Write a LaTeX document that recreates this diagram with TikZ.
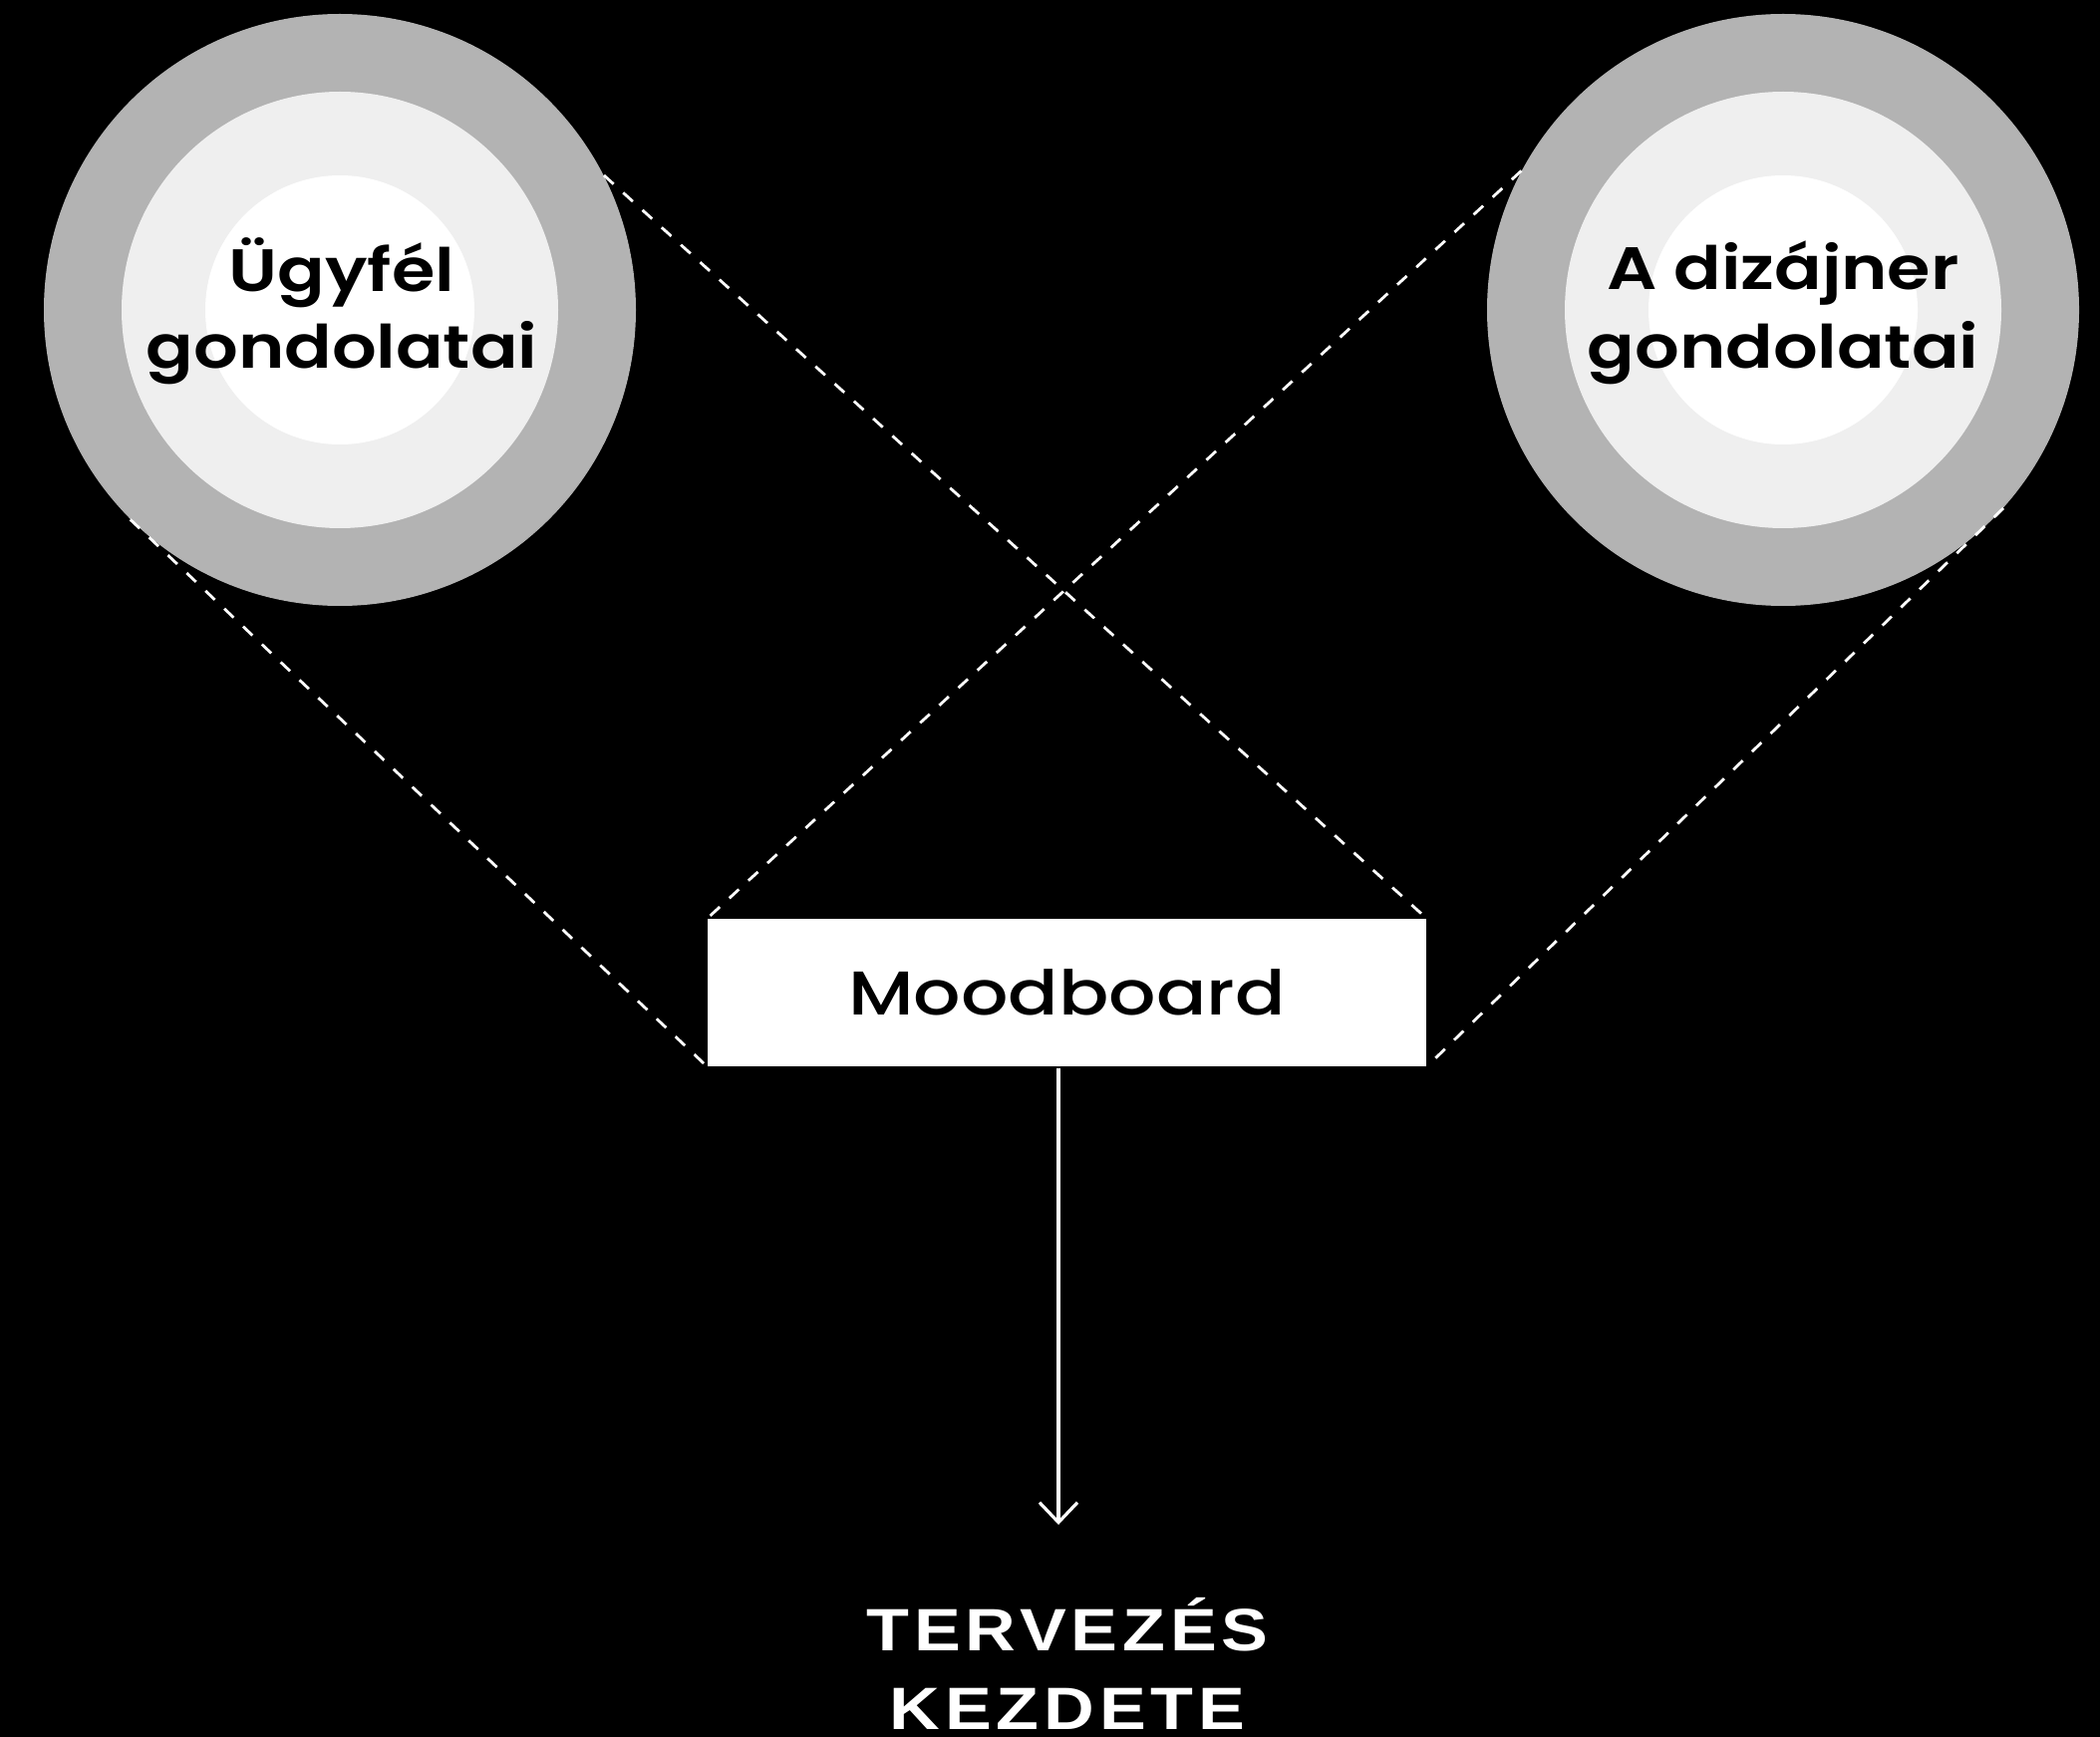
\documentclass[tikz,border=0pt]{standalone}
\usepackage{fontspec}
\usetikzlibrary{arrows.meta}
\newfontfamily\popm[FakeStretch=1.2]{Poppins Medium}
\newfontfamily\pops[FakeStretch=1.17]{Poppins SemiBold}
\newfontfamily\capsfont[FakeStretch=1.17,LetterSpace=8]{Liberation Sans Bold}
\definecolor{ringout}{HTML}{B3B3B3}
\definecolor{ringmid}{HTML}{EFEFEF}
\begin{document}
\begin{tikzpicture}[x=0.5pt,y=-0.5pt,
  outerring/.style={circle,fill=ringout,inner sep=0pt,minimum size=297pt},
  midring/.style={circle,fill=ringmid,inner sep=0pt,minimum size=219pt},
  innerring/.style={circle,fill=white,inner sep=0pt,minimum size=135pt},
  circtext/.style={font=\pops\fontsize{30}{37}\selectfont,text=black,inner sep=0pt,anchor=base},
  boardbox/.style={rectangle,fill=white,inner sep=0pt,minimum width=360.5pt,minimum height=74pt,
    font=\popm\fontsize{31}{38}\selectfont,text=black},
  dashline/.style={draw=white,line width=1.4pt,dash pattern=on 6.5pt off 6.5pt},
  arrowline/.style={draw=white,line width=1.6pt,-{Straight Barb[length=10pt,width=19pt]}},
  endtext/.style={font=\capsfont\fontsize{30}{40}\selectfont,text=white,inner sep=0pt,anchor=base}
]
\fill[black] (0,0) rectangle (2107,1743);
\useasboundingbox (0,0) rectangle (2107,1743);
% left circle
\node[outerring] (lo) at (341,311) {};
\node[midring] (lm) at (341,311) {};
\node[innerring] (li) at (341,311) {};
\node[circtext] (lt1) at (343,293) {Ügyfél};
\node[circtext] (lt2) at (343,370) {gondolatai};
% right circle
\node[outerring] (ro) at (1789,311) {};
\node[midring] (rm) at (1789,311) {};
\node[innerring] (ri) at (1789,311) {};
\node[circtext] (rt1) at (1789,291) {A dizájner};
\node[circtext] (rt2) at (1789,370) {gondolatai};
% moodboard
\node[boardbox] (mb) at (1070.5,996) {Moodboard};
% dashed connectors
\draw[dashline] (lo.27.6) -- (mb.north east);
\draw[dashline] (lo.225.4) -- (mb.south west);
\draw[dashline] (ro.152.6) -- (mb.north west);
\draw[dashline] (ro.318.1) -- (mb.south east);
% arrow and final text
\coordinate (aend) at (1062,1530);
\draw[arrowline] ([yshift=-1pt]mb.south -| aend) -- (aend);
\node[endtext] (t1) at (1071,1656) {TERVEZÉS};
\node[endtext] (t2) at (1071,1735) {KEZDETE};
\end{tikzpicture}
\end{document}
